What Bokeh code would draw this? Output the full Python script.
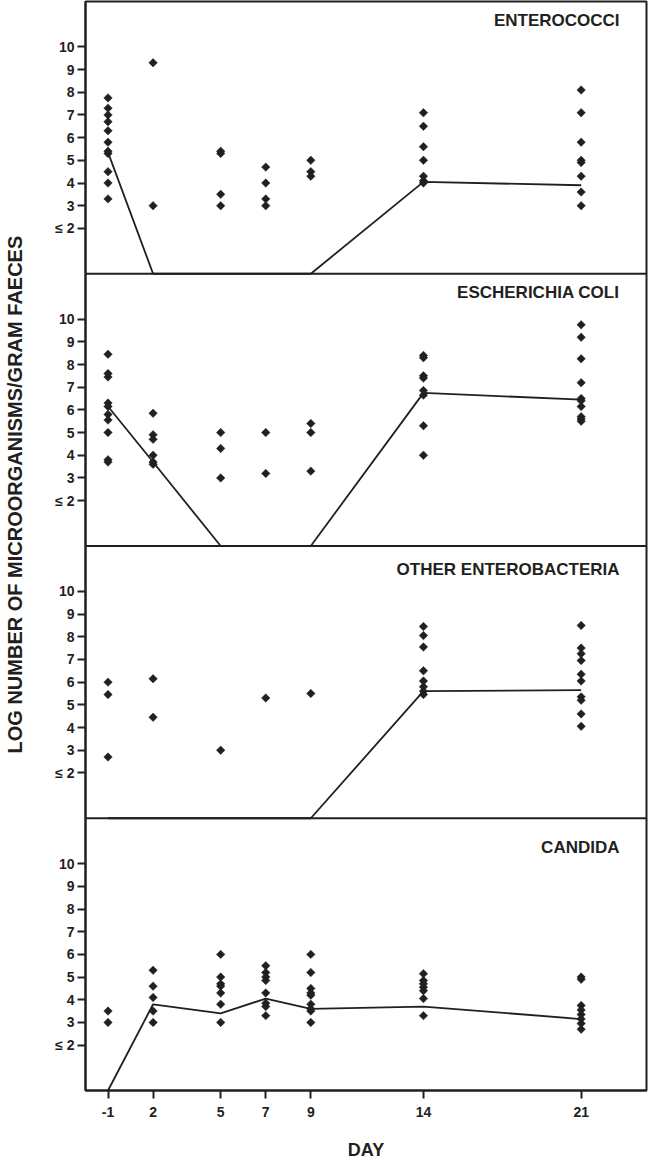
import math
from bokeh.plotting import figure
from bokeh.models import FixedTicker, Span, Label, Range1d, Title
from bokeh.embed import file_html
from bokeh.resources import INLINE

# ---------------- data ----------------
day_labels = ["-1", "2", "5", "7", "9", "14", "21"]
day_axis_pos = [0, 2, 5, 7, 9, 14, 21]   # day -1 is drawn at the origin of the axis

y_tick_values = [2, 3, 4, 5, 6, 7, 8, 9, 10]
y_tick_labels = ["\u2264 2", "3", "4", "5", "6", "7", "8", "9", "10"]

panel_names = ["ENTEROCOCCI", "ESCHERICHIA COLI", "OTHER ENTEROBACTERIA", "CANDIDA"]

enterococci_points = [
    [7.75, 7.3, 7.0, 6.7, 6.3, 5.8, 5.4, 5.3, 4.5, 4.0, 3.3],
    [9.3, 3.0],
    [5.4, 5.3, 3.5, 3.0],
    [4.7, 4.0, 3.3, 3.0],
    [5.0, 4.5, 4.3],
    [7.1, 6.5, 5.6, 5.0, 4.3, 4.1, 4.0],
    [8.1, 7.1, 5.8, 5.0, 4.9, 4.3, 3.6, 3.0],
]
enterococci_median = [5.35, 0, 0, 0, 0, 4.05, 3.9]

ecoli_points = [
    [8.45, 7.6, 7.45, 6.3, 6.15, 5.8, 5.55, 5.0, 3.8, 3.7],
    [5.85, 4.9, 4.7, 4.0, 3.7, 3.6],
    [5.0, 4.3, 3.0],
    [5.0, 3.2],
    [5.4, 5.0, 3.3],
    [8.4, 8.3, 7.5, 7.4, 6.85, 6.65, 5.3, 4.0],
    [9.75, 9.2, 8.25, 7.2, 6.5, 6.4, 6.15, 5.7, 5.6, 5.5],
]
ecoli_median = [6.15, 3.7, 0, 0, 0, 6.75, 6.45]

other_points = [
    [6.0, 5.45, 2.7],
    [6.15, 4.45],
    [3.0],
    [5.3],
    [5.5],
    [8.45, 8.05, 7.55, 6.5, 6.05, 5.8, 5.6, 5.45],
    [8.5, 7.5, 7.25, 6.95, 6.35, 6.05, 5.35, 5.2, 4.6, 4.05],
]
other_median = [0, 0, 0, 0, 0, 5.6, 5.65]

candida_points = [
    [3.5, 3.0],
    [5.3, 4.6, 4.1, 3.5, 3.0],
    [6.0, 5.0, 4.7, 4.6, 4.3, 3.8, 3.0],
    [5.5, 5.2, 5.0, 4.85, 4.3, 3.85, 3.7, 3.3],
    [6.0, 5.2, 4.5, 4.3, 4.2, 3.8, 3.6, 3.5, 3.0],
    [5.15, 4.85, 4.7, 4.55, 4.4, 4.05, 3.3],
    [5.0, 4.9, 3.75, 3.55, 3.35, 3.15, 2.95, 2.7],
]
candida_median = [0, 3.8, 3.4, 4.05, 3.6, 3.7, 3.15]

all_points = [enterococci_points, ecoli_points, other_points, candida_points]
all_medians = [enterococci_median, ecoli_median, other_median, candida_median]

# ---------------- layout / style ----------------
INK = "#231f20"
FONT = "Liberation Sans"
PANEL_SPAN = 12          # each panel shows log values 0..12
N = len(panel_names)
title_dy = [-19, -19, -23, -29]

p = figure(width=651, height=1164, output_backend="svg", toolbar_location=None,
           x_range=Range1d(-1, 23.9), y_range=Range1d(0, PANEL_SPAN * N),
           min_border_left=85, min_border_right=5, min_border_top=1,
           min_border_bottom=74)
p.xgrid.visible = False
p.ygrid.visible = False
p.outline_line_color = INK
p.outline_line_width = 2
p.background_fill_color = "white"
p.border_fill_color = "white"

y_ticks, y_over = [], {}
for i in range(N):
    off = (N - 1 - i) * PANEL_SPAN
    for v, lab in zip(y_tick_values, y_tick_labels):
        y_ticks.append(off + v)
        y_over[off + v] = lab
    xs, ys = [], []
    for pos, vals in zip(day_axis_pos, all_points[i]):
        for v in vals:
            xs.append(pos)
            ys.append(v + off)
    p.line(day_axis_pos, [m + off for m in all_medians[i]], line_color=INK, line_width=1.8)
    p.scatter(xs, ys, marker="square", angle=math.pi / 4, size=6,
              fill_color=INK, line_color=INK, line_width=0.5)
    if off > 0:
        p.add_layout(Span(location=off, dimension="width", line_color=INK, line_width=2))
    p.add_layout(Label(x=23.9, y=off + PANEL_SPAN, x_offset=-27, y_offset=title_dy[i],
                       text=panel_names[i], text_align="right", text_baseline="alphabetic",
                       text_font=FONT, text_font_style="bold", text_font_size="17px",
                       text_color=INK))

p.yaxis.ticker = FixedTicker(ticks=y_ticks)
p.yaxis.major_label_overrides = y_over
p.xaxis.ticker = FixedTicker(ticks=day_axis_pos)
p.xaxis.major_label_overrides = {pos: lab for pos, lab in zip(day_axis_pos, day_labels)}

for ax in (p.xaxis[0], p.yaxis[0]):
    ax.axis_line_color = INK
    ax.axis_line_width = 2
    ax.major_tick_line_color = INK
    ax.major_tick_line_width = 2
    ax.major_tick_out = 8
    ax.major_tick_in = 0
    ax.minor_tick_line_color = None
    ax.major_label_text_font = FONT
    ax.major_label_text_font_style = "bold"
    ax.major_label_text_font_size = "14px"
    ax.major_label_text_color = INK

p.yaxis.major_label_standoff = 3
# spacer between the tick labels and the rotated y title
p.yaxis.axis_label = "\u00a0"
p.yaxis.axis_label_text_font_size = "10px"
p.yaxis.axis_label_standoff = 13

p.xaxis.major_label_standoff = 8
p.xaxis.axis_label = "DAY"
p.xaxis.axis_label_text_font = FONT
p.xaxis.axis_label_text_font_style = "bold"
p.xaxis.axis_label_text_font_size = "18px"
p.xaxis.axis_label_text_color = INK
p.xaxis.axis_label_standoff = 20

ytitle = Title(text="LOG NUMBER OF MICROORGANISMS/GRAM FAECES", align="left",
               offset=337, standoff=0, text_font=FONT, text_font_style="bold",
               text_font_size="20px", text_color=INK)
p.add_layout(ytitle, "left")

open("out.html", "w").write(file_html(p, INLINE))
